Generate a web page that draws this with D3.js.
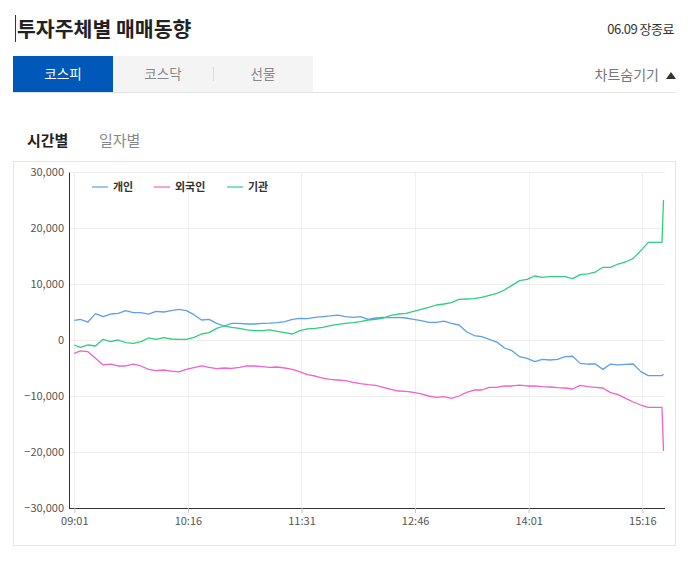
<!DOCTYPE html>
<html>
<head>
<meta charset="utf-8">
<script src="https://cdn.jsdelivr.net/npm/d3@7"></script>
<style>
  body { margin: 0; background: #fff; font-family: "Noto Sans CJK KR", "Noto Sans", sans-serif; }
  svg text { font-family: "Noto Sans CJK KR", "Noto Sans", sans-serif; }
</style>
</head>
<body>
<div id="chart"></div>
<script>
/** data **/
const times = [
  "09:01","09:05","09:10","09:15","09:20","09:25","09:30","09:35","09:40","09:45","09:50","09:55",
  "10:00","10:05","10:10","10:15","10:20","10:25","10:30","10:35","10:40","10:45","10:50","10:55",
  "11:00","11:05","11:10","11:15","11:20","11:25","11:30","11:35","11:40","11:45","11:50","11:55",
  "12:00","12:05","12:10","12:15","12:20","12:25","12:30","12:35","12:40","12:45","12:50","12:55",
  "13:00","13:05","13:10","13:15","13:20","13:25","13:30","13:35","13:40","13:45","13:50","13:55",
  "14:00","14:05","14:10","14:15","14:20","14:25","14:30","14:35","14:40","14:45","14:50","14:55",
  "15:00","15:05","15:10","15:15","15:20","15:29","15:30"
];

const individual = [
  3500, 3700, 3210, 4700, 4170, 4640, 4760, 5240, 4880, 4880, 4640, 5120,
  5000, 5240, 5480, 5240, 4520, 3570, 3690, 2980, 2500, 2980, 2980, 2860,
  2860, 2980, 3000, 3100, 3270, 3690, 3870, 3810, 4050, 4170, 4290, 4460,
  4170, 4050, 4170, 3690, 3930, 4050, 4000, 4050, 3930, 3690, 3450, 3150,
  3150, 3390, 2980, 2680, 1480, 800, 600, 120, -360, -1430, -1900, -2980,
  -3270, -3870, -3450, -3570, -3450, -2980, -2900, -4170, -4290, -4290, -5240, -4290,
  -4460, -4350, -4290, -5650, -6370, -6370, -6100
];

const foreign = [
  -2380, -1960, -2080, -3270, -4460, -4290, -4640, -4640, -4290, -4640, -5240, -5480,
  -5360, -5540, -5710, -5240, -4940, -4640, -4880, -5120, -5000, -5060, -4880, -4640,
  -4640, -4760, -4880, -4820, -5000, -5240, -5710, -6190, -6430, -6790, -7020, -7140,
  -7260, -7560, -7800, -7980, -8100, -8450, -8810, -9110, -9170, -9350, -9640, -10000,
  -10240, -10120, -10420, -10000, -9350, -8930, -8930, -8450, -8450, -8210, -8210, -8040,
  -8210, -8210, -8330, -8390, -8510, -8570, -8750, -8100, -8330, -8450, -8570, -9400,
  -9760, -10420, -11070, -11610, -12020, -12020, -19800
];

const institution = [
  -890, -1310, -890, -1070, 120, -300, 0, -480, -600, -300, 360, 120,
  420, 180, 120, 120, 480, 1070, 1310, 2080, 2500, 2260, 2080, 1790,
  1670, 1670, 1790, 1550, 1310, 1070, 1670, 1970, 2080, 2260, 2560, 2800,
  2980, 3100, 3270, 3570, 3690, 3930, 4400, 4640, 4760, 5120, 5480, 5830,
  6250, 6430, 6670, 7260, 7320, 7380, 7620, 7980, 8330, 8930, 9760, 10600,
  10830, 11430, 11190, 11310, 11310, 11310, 10950, 11670, 11790, 12140, 12980, 12980,
  13570, 13930, 14580, 15950, 17440, 17440, 25000
];

const seriesNames = ["개인", "외국인", "기관"];
const seriesColors = ["#5e9ff0", "#f062cc", "#2fcf7c"];
const yTicks = [-30000, -20000, -10000, 0, 10000, 20000, 30000];
const xTickLabels = ["09:01", "10:16", "11:31", "12:46", "14:01", "15:16"];
const tabLabels = ["코스피", "코스닥", "선물"];

/** helpers **/
function toMinutes(t) {
    const [h, m] = t.split(":").map(Number);
    return h * 60 + m;
}

const width = 694;
const height = 562;

const svg = d3.select("#chart")
    .append("svg")
    .attr("width", width)
    .attr("height", height);

// Header
svg.append("line")
    .attr("x1", 15.5).attr("x2", 15.5)
    .attr("y1", 15).attr("y2", 42)
    .attr("stroke", "#333").attr("stroke-width", 1);

svg.append("text")
    .attr("x", 17).attr("y", 37)
    .attr("font-size", 20.5).attr("font-weight", 700)
    .attr("fill", "#222")
    .text("투자주체별 매매동향");

svg.append("text")
    .attr("x", 674).attr("y", 34)
    .attr("text-anchor", "end")
    .attr("font-size", 13).attr("fill", "#333")
    .attr("letter-spacing", -0.5)
    .text("06.09 장종료");

// Market tabs
const tabW = 100;
const tabs = svg.append("g");
tabs.selectAll("rect")
    .data(tabLabels)
    .join("rect")
    .attr("x", (d, i) => 13 + i * tabW)
    .attr("y", 56)
    .attr("width", tabW)
    .attr("height", 36)
    .attr("fill", (d, i) => i === 0 ? "#0058b8" : "#f4f4f4");

tabs.selectAll("line")
    .data([1, 2])
    .join("line")
    .attr("x1", d => 13 + d * tabW + 0.5)
    .attr("x2", d => 13 + d * tabW + 0.5)
    .attr("y1", 67).attr("y2", 81)
    .attr("stroke", d => d === 1 ? "#f4f4f4" : "#ddd");

tabs.selectAll("text")
    .data(tabLabels)
    .join("text")
    .attr("x", (d, i) => 13 + i * tabW + tabW / 2)
    .attr("y", 79)
    .attr("text-anchor", "middle")
    .attr("font-size", 13.5)
    .attr("fill", (d, i) => i === 0 ? "#fff" : "#888")
    .text(d => d);

svg.append("line")
    .attr("x1", 13).attr("x2", 676)
    .attr("y1", 92.5).attr("y2", 92.5)
    .attr("stroke", "#e3e3e3");

svg.append("text")
    .attr("x", 659).attr("y", 80)
    .attr("text-anchor", "end")
    .attr("font-size", 14).attr("fill", "#777")
    .text("차트숨기기");

svg.append("path")
    .attr("d", "M666,79 L676,79 L671,72 Z")
    .attr("fill", "#333");

// Period tabs
svg.append("text")
    .attr("x", 27).attr("y", 146)
    .attr("font-size", 15).attr("font-weight", 700).attr("fill", "#222")
    .text("시간별");

svg.append("text")
    .attr("x", 99).attr("y", 146)
    .attr("font-size", 15).attr("fill", "#888")
    .text("일자별");

// Chart box
svg.append("rect")
    .attr("x", 13.5).attr("y", 161.5)
    .attr("width", 662).attr("height", 384)
    .attr("fill", "none")
    .attr("stroke", "#e5e5e5");

/** scales **/
const plotLeft = 69;
const plotRight = 665;
const plotTop = 172;
const plotBottom = 508;

const t0 = toMinutes(times[0]);
const x = d3.scaleLinear()
    .domain([0, toMinutes("15:30") - t0])
    .range([74.3, 663.5]);

const y = d3.scaleLinear()
    .domain([-30000, 30000])
    .range([plotBottom, plotTop]);

// Grid
const grid = svg.append("g");
grid.selectAll("line.h")
    .data(yTicks.slice(1))
    .join("line")
    .attr("class", "h")
    .attr("x1", plotLeft).attr("x2", plotRight)
    .attr("y1", d => Math.round(y(d)) + 0.5)
    .attr("y2", d => Math.round(y(d)) + 0.5)
    .attr("stroke", "#efefef");

grid.selectAll("line.v")
    .data(xTickLabels)
    .join("line")
    .attr("class", "v")
    .attr("x1", d => Math.round(x(toMinutes(d) - t0)) + 0.5)
    .attr("x2", d => Math.round(x(toMinutes(d) - t0)) + 0.5)
    .attr("y1", plotTop).attr("y2", plotBottom)
    .attr("stroke", "#efefef");

// Axes
const yAxis = svg.append("g")
    .attr("transform", `translate(${plotLeft},0)`)
    .call(d3.axisLeft(y).tickValues(yTicks).tickSize(0).tickPadding(5)
        .tickFormat(d3.format(",")));
yAxis.select(".domain").attr("stroke", "#333");
yAxis.selectAll("text")
    .attr("font-size", 11).attr("fill", "#555")
    .attr("font-family", "'Noto Sans', sans-serif");

const xAxis = svg.append("g")
    .attr("transform", `translate(0,${plotBottom})`)
    .call(d3.axisBottom(x)
        .tickValues(xTickLabels.map(d => toMinutes(d) - t0))
        .tickSize(5).tickPadding(4)
        .tickFormat((d, i) => xTickLabels[i]));
xAxis.select(".domain")
    .attr("d", `M${plotLeft},0.5H${plotRight}`)
    .attr("stroke", "#333");
xAxis.selectAll(".tick line").attr("stroke", "#b8c2d6");
xAxis.selectAll("text")
    .attr("font-size", 11).attr("fill", "#555")
    .attr("font-family", "'Noto Sans', sans-serif");

/** lines **/
const allSeries = [individual, foreign, institution];
const line = d3.line()
    .x((d, i) => x(toMinutes(times[i]) - t0))
    .y(d => y(d));

svg.append("g")
    .selectAll("path")
    .data(allSeries)
    .join("path")
    .attr("d", d => line(d))
    .attr("fill", "none")
    .attr("stroke", (d, i) => seriesColors[i])
    .attr("stroke-width", 1.3)
    .attr("stroke-linejoin", "round");

// Legend
const legendX = [92, 154, 227];
const legend = svg.append("g")
    .selectAll("g")
    .data(seriesNames)
    .join("g")
    .attr("transform", (d, i) => `translate(${legendX[i]},187)`);

legend.append("line")
    .attr("x1", 0).attr("x2", 16)
    .attr("stroke", (d, i) => seriesColors[i])
    .attr("stroke-opacity", 0.6)
    .attr("stroke-width", 2);

legend.append("text")
    .attr("x", 21).attr("y", 4)
    .attr("font-size", 11).attr("font-weight", 700).attr("fill", "#333")
    .text(d => d);
</script>
</body>
</html>
